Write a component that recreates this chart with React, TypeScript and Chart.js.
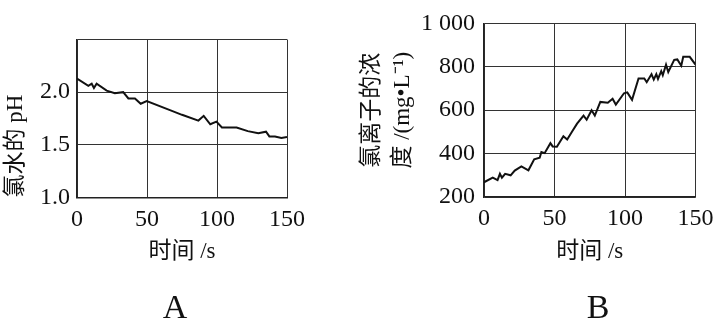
import React, { useEffect, useRef } from "react";
import { Chart, registerables } from "chart.js";

Chart.register(...registerables);

// ---- Data ----
const timeA = [0, 8.1, 10.5, 12.1, 14, 21.2, 27, 33, 36.7, 41.4, 45.5, 49.8, 66.4, 75, 86.7, 90.5, 95.2, 99.6, 103.5, 114, 122, 129.5, 135, 137.4, 141.4, 146, 150];
const phA = [2.13, 2.06, 2.08, 2.04, 2.08, 2.015, 1.99, 2.0, 1.94, 1.94, 1.89, 1.915, 1.83, 1.785, 1.73, 1.775, 1.695, 1.72, 1.665, 1.665, 1.63, 1.61, 1.625, 1.58, 1.58, 1.565, 1.575];

const timeB = [0, 6.2, 9.6, 11.3, 12.7, 15, 18.9, 21.8, 26.5, 31.5, 35.6, 39.5, 40.7, 43, 47.1, 48.7, 51.7, 56.3, 59, 62.5, 66, 70.6, 72.8, 76.3, 78.6, 82.5, 87.8, 91.2, 93.5, 99.3, 101.6, 105, 109.6, 113.7, 115.4, 118.8, 120.4, 122.2, 123.4, 125.7, 126.8, 129.1, 130.7, 134.9, 137.1, 139.9, 141.3, 145.9, 150];
const concB = [268, 289, 278, 307, 289, 307, 300, 322, 341, 323, 374, 381, 407, 402, 448, 433, 432, 480, 465, 502, 538, 575, 556, 600, 575, 638, 634, 653, 626, 678, 682, 648, 746, 746, 729, 766, 741, 766, 744, 780, 761, 810, 776, 832, 834, 805, 846, 846, 810];

const xTicks = [0, 50, 100, 150];
const yTicksA = [1.0, 1.5, 2.0, 2.5];
const yTickLabelsA = ["1.0", "1.5", "2.0", ""];
const yTicksB = [200, 400, 600, 800, 1000];
const yTickLabelsB = ["200", "400", "600", "800", "1 000"];

const xTitle = "时间 /s";
const yTitleA = "氯水的 pH";
const yTitleB = ["氯离子的浓", "度 /(mg•L⁻¹)"];

const FONT = '"Liberation Serif", "Noto Sans CJK SC", serif';

type Cfg = {
  xs: number[];
  ys: number[];
  yTicks: number[];
  yLabels: string[];
  yTitle: string | string[];
  yTitleAlign: "start" | "center" | "end";
  panel: string;
  panelX: number;
  pad: { left: number; right: number; top: number; bottom: number };
  yWidth: number;
  xHeight: number;
  yTickPad: number;
  xTickPad: number;
};

function makeChart(canvas: HTMLCanvasElement, c: Cfg) {
  const panelPlugin = {
    id: "panelLabel",
    afterDraw(chart: any) {
      const ctx = chart.ctx;
      ctx.save();
      ctx.font = `34px ${FONT}`;
      ctx.fillStyle = "#111";
      ctx.textAlign = "center";
      ctx.textBaseline = "alphabetic";
      ctx.fillText(c.panel, c.panelX, 318);
      ctx.restore();
    },
  };
  const grid = { color: "#333", lineWidth: 1, drawTicks: false };
  const border = { display: true, color: "#222", width: 1.5 };
  return new Chart(canvas, {
    type: "line",
    data: {
      datasets: [
        {
          data: c.xs.map((x, i) => ({ x, y: c.ys[i] })),
          borderColor: "#111",
          borderWidth: 2,
          pointRadius: 0,
          tension: 0,
          fill: false,
        },
      ],
    },
    options: {
      responsive: false,
      animation: false,
      events: [],
      layout: { padding: c.pad },
      plugins: { legend: { display: false }, tooltip: { enabled: false } },
      scales: {
        x: {
          type: "linear",
          min: 0,
          max: 150,
          afterBuildTicks: (s: any) => {
            s.ticks = xTicks.map((v) => ({ value: v }));
          },
          afterFit: (s: any) => {
            s.height = c.xHeight;
          },
          grid,
          border,
          ticks: {
            padding: c.xTickPad,
            color: "#111",
            maxRotation: 0,
            font: { family: FONT, size: 24 },
            callback: (v: any) => String(v),
          },
          title: {
            display: true,
            text: xTitle,
            color: "#111",
            padding: 0,
            font: { family: FONT, size: 23, lineHeight: 1.2 },
          },
        },
        y: {
          type: "linear",
          min: c.yTicks[0],
          max: c.yTicks[c.yTicks.length - 1],
          afterBuildTicks: (s: any) => {
            s.ticks = c.yTicks.map((v) => ({ value: v }));
          },
          afterFit: (s: any) => {
            s.width = c.yWidth;
          },
          grid,
          border,
          ticks: {
            padding: c.yTickPad,
            color: "#111",
            font: { family: FONT, size: 24 },
            callback: (v: any) => {
              const i = c.yTicks.findIndex((t) => Math.abs(t - v) < 1e-6);
              return i >= 0 ? c.yLabels[i] : "";
            },
          },
          title: {
            display: true,
            text: c.yTitle,
            align: c.yTitleAlign,
            color: "#111",
            padding: 0,
            font: { family: FONT, size: 23, lineHeight: 1.35 },
          },
        },
      },
    },
    plugins: [panelPlugin],
  } as any);
}

export default function App() {
  const refA = useRef<HTMLCanvasElement>(null);
  const refB = useRef<HTMLCanvasElement>(null);

  useEffect(() => {
    const a = makeChart(refA.current!, {
      xs: timeA,
      ys: phA,
      yTicks: yTicksA,
      yLabels: yTickLabelsA,
      yTitle: yTitleA,
      yTitleAlign: "start",
      panel: "A",
      panelX: 175,
      pad: { left: 0, right: 53, top: 39.5, bottom: 53.2 },
      yWidth: 77,
      xHeight: 68.3,
      yTickPad: 7,
      xTickPad: 7.5,
    });
    const b = makeChart(refB.current!, {
      xs: timeB,
      ys: concB,
      yTicks: yTicksB,
      yLabels: yTickLabelsB,
      yTitle: yTitleB,
      yTitleAlign: "center",
      panel: "B",
      panelX: 258,
      pad: { left: 16.5, right: 19, top: 15, bottom: 53.2 },
      yWidth: 127.5,
      xHeight: 68.8,
      yTickPad: 9,
      xTickPad: 7.5,
    });
    return () => {
      a.destroy();
      b.destroy();
    };
  }, []);

  return (
    <div style={{ position: "absolute", left: 0, top: 0, width: 721, height: 319, background: "#fff" }}>
      <canvas ref={refA} width={340} height={319} style={{ position: "absolute", left: 0, top: 0, width: 340, height: 319 }} />
      <canvas ref={refB} width={381} height={319} style={{ position: "absolute", left: 340, top: 0, width: 381, height: 319 }} />
    </div>
  );
}
